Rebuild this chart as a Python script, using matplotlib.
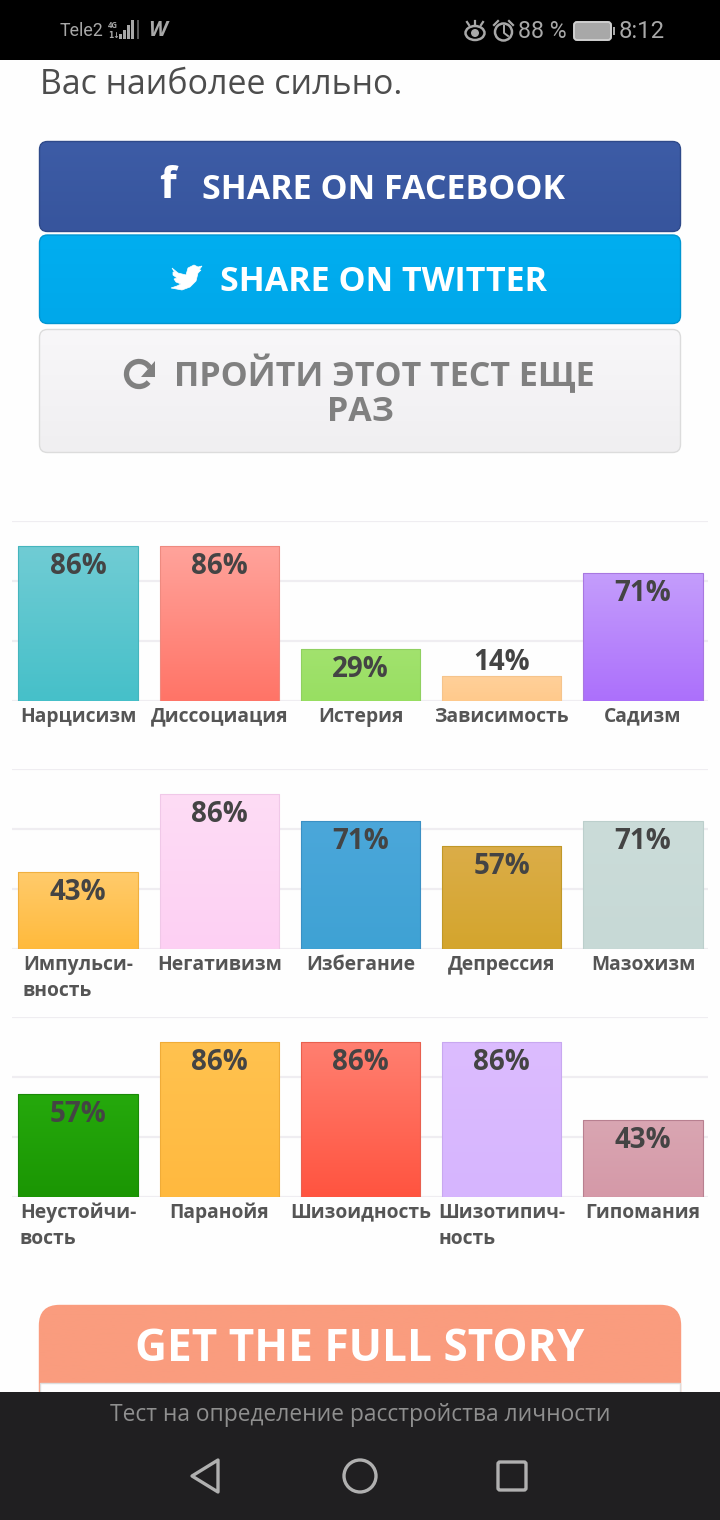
import numpy as np
import matplotlib
matplotlib.use("Agg")
import matplotlib.pyplot as plt
from matplotlib.colors import LinearSegmentedColormap
from matplotlib.patches import FancyBboxPatch, Rectangle, Circle, Polygon, Arc, Ellipse

plt.rcParams['font.family'] = ['Open Sans', 'DejaVu Sans']

# chart values
labels_1 = ["Нарцисизм", "Диссоциация", "Истерия", "Зависимость", "Садизм"]
values_1 = [86, 86, 29, 14, 71]
tops_1 = ["#70ccd4", "#ffa39b", "#a2e26e", "#ffd09a", "#c49dfc"]
bottoms_1 = ["#46c0c9", "#ff7467", "#98df62", "#ffca8c", "#ac70fb"]
edges_1 = ["#45b5bd", "#ee8a80", "#90d060", "#f5c48c", "#a878e0"]

labels_2 = ["Импульси-\nвность", "Негативизм", "Избегание", "Депрессия", "Мазохизм"]
values_2 = [43, 86, 71, 57, 71]
tops_2 = ["#ffcb6c", "#fedcf5", "#4ba7da", "#dbad48", "#cbdcd9"]
bottoms_2 = ["#ffba3c", "#fdd0f3", "#3fa2d4", "#d4a52d", "#c7d9d6"]
edges_2 = ["#f0b040", "#f0c8e8", "#3b90c4", "#c09828", "#bccfcc"]

labels_3 = ["Неустойчи-\nвость", "Паранойя", "Шизоидность", "Шизотипич-\nность", "Гипомания"]
values_3 = [57, 86, 86, 86, 43]
tops_3 = ["#25a90c", "#ffc24f", "#ff7f70", "#dcbcff", "#d9a6b2"]
bottoms_3 = ["#1b9603", "#ffb93f", "#ff5440", "#d6b5fe", "#d599a8"]
edges_3 = ["#1a8a08", "#f0ac38", "#e8604f", "#c8a8f0", "#b88090"]

chart_tops = [521, 769, 1017]

W, H = 720, 1520
fig = plt.figure(figsize=(7.2, 15.2), dpi=100, facecolor="#fefefe")

bg = fig.add_axes([0, 0, 1, 1])
bg.set_xlim(0, W)
bg.set_ylim(H, 0)
bg.axis("off")


def button(x0, y0, x1, y1, top, bottom, edge, r=8):
    box = FancyBboxPatch((x0 + r, y0 + r), x1 - x0 - 2 * r, y1 - y0 - 2 * r,
                         boxstyle="round,pad=%d,rounding_size=%d" % (r, r),
                         fc="none", ec=edge, lw=1.0, zorder=3)
    bg.add_patch(box)
    cm = LinearSegmentedColormap.from_list("b", [top, bottom])
    im = bg.imshow(np.linspace(0, 1, 64).reshape(-1, 1), cmap=cm, extent=(x0, x1, y1, y0),
                   aspect="auto", zorder=2)
    im.set_clip_path(box)


# status bar
bg.add_patch(Rectangle((0, 0), W, 60, fc="#000000", ec="none"))
bg.text(60, 31, "Tele2", color="#a8a8a8", fontsize=12.8, va="center", family="Roboto")
bg.text(108, 25, "4G", color="#a8a8a8", fontsize=5.5, va="center", weight="bold")
bg.text(108, 35, "1↓", color="#a8a8a8", fontsize=5.5, va="center", weight="bold", family="DejaVu Sans")
for sx, sh in zip([119, 123, 127, 131], [5, 9, 14, 19]):
    bg.add_patch(Rectangle((sx, 39 - sh), 2.6, sh, fc="#a8a8a8", ec="none"))
bg.add_patch(Rectangle((137, 20), 2, 19, fc="#555555", ec="none"))
bg.text(157, 30.5, "W", color="#a8a8a8", fontsize=15, ha="center", va="center", weight="bold", style="italic")
bg.add_patch(Ellipse((475, 33), 19, 14, fc="none", ec="#a8a8a8", lw=1.8))
bg.add_patch(Circle((475, 33), 4, fc="#a8a8a8", ec="none"))
bg.plot([467, 469], [22, 25], color="#a8a8a8", lw=1.6)
bg.plot([475, 475], [21, 25], color="#a8a8a8", lw=1.6)
bg.plot([483, 481], [22, 25], color="#a8a8a8", lw=1.6)
bg.add_patch(Circle((503.5, 32), 8.5, fc="none", ec="#a8a8a8", lw=1.8))
bg.plot([504, 504, 508], [26, 33, 36], color="#a8a8a8", lw=1.4)
bg.plot([494, 498], [25, 21], color="#a8a8a8", lw=1.6)
bg.plot([513, 509], [25, 21], color="#a8a8a8", lw=1.6)
bg.text(518, 32, "88 %", color="#a8a8a8", fontsize=16.7, va="center", family="Roboto")
bg.add_patch(FancyBboxPatch((575, 23), 35, 16, boxstyle="round,pad=1,rounding_size=3",
                            fc="#a8a8a8", ec="#d0d0d0", lw=1.4))
bg.add_patch(Rectangle((612.5, 27), 2, 8, fc="#a8a8a8", ec="none"))
bg.text(619, 32, "8:12", color="#a8a8a8", fontsize=17.2, va="center", family="Roboto")

bg.text(40, 85, "Вас наиболее сильно.", color="#4d4d4d", fontsize=24.4, va="center")

# share buttons
button(39.5, 141.5, 680.5, 231.5, "#3d5ca6", "#37559d", "#2f4a8a")
bg.text(168, 187, "f", color="white", fontsize=31, ha="center", va="center", weight="bold")
bg.text(384, 190, "SHARE ON FACEBOOK", color="white", fontsize=24.5, ha="center", va="center", weight="bold")

button(39.5, 235, 680.5, 323.5, "#01aef0", "#00a8ea", "#0096d2")
bird = [(172, 268), (178, 273), (186, 275), (188, 268), (194, 265), (198, 267), (202, 266), (199, 270),
        (201, 270), (198, 273), (196, 281), (190, 287), (182, 290), (171, 288), (177, 286), (181, 284),
        (176, 282), (174, 279), (177, 278), (173, 275), (173, 272), (175, 273)]
bg.add_patch(Polygon(bird, closed=True, fc="white", ec="white", lw=0.5, zorder=5))
bg.text(384, 282, "SHARE ON TWITTER", color="white", fontsize=24.5, ha="center", va="center", weight="bold")

button(39.5, 329.5, 680.5, 452.5, "#f8f7f9", "#f0eff1", "#dcdcdc")
bg.add_patch(Arc((139, 374), 25, 25, theta1=-320, theta2=-30, ec="#808080", lw=3.8, zorder=5))
bg.add_patch(Polygon([(155, 361), (155, 377), (141, 377)], closed=True, fc="#808080", ec="none", zorder=5))
bg.text(384, 374, "ПРОЙТИ ЭТОТ ТЕСТ ЕЩЕ", color="#808080", fontsize=24.5, ha="center", va="center", weight="bold")
bg.text(360, 412, "РАЗ", color="#808080", fontsize=24.5, ha="center", va="center", weight="bold")

# bottom panel and navigation bar
button(39.5, 1305.5, 680.5, 1440, "#fa9c7e", "#fa9c7e", "#fa9c7e", r=20)
bg.add_patch(Rectangle((40, 1383), 640, 30, fc="#fefefe", ec="#dddddd", lw=1, zorder=4))
bg.text(360, 1349.5, "GET THE FULL STORY", color="white", fontsize=31.8, ha="center", va="center", weight="bold", zorder=5)
bg.add_patch(Rectangle((0, 1392), W, 128, fc="#201f21", ec="none", zorder=6))
bg.text(360, 1415, "Тест на определение расстройства личности", color="#8f8f8f",
        fontsize=16.4, ha="center", va="center", zorder=7)
bg.add_patch(Polygon([(218, 1460), (192, 1476), (218, 1492)], closed=True, fc="none", ec="#b0b0b0",
                     lw=2.4, joinstyle="round", zorder=7))
bg.add_patch(Circle((360, 1476), 16, fc="none", ec="#b0b0b0", lw=2.4, zorder=7))
bg.add_patch(FancyBboxPatch((498, 1462), 28, 28, boxstyle="round,pad=0,rounding_size=2", fc="none",
                            ec="#b0b0b0", lw=2.4, zorder=7))
bg.set_xlim(0, W)
bg.set_ylim(H, 0)


def draw_chart(top_px, labels, values, tops, bottoms, edges):
    # chart area is 696 x 180 px, 100 % = 180 px
    ax = fig.add_axes([12 / W, 1 - (top_px + 180) / H, 696 / W, 180 / H])
    ax.patch.set_alpha(0)
    x = np.arange(len(values))
    bars = ax.bar(x, values, width=0.845, color="none", edgecolor="none", zorder=3)
    for b, v, t, bo, e in zip(bars, values, tops, bottoms, edges):
        cm = LinearSegmentedColormap.from_list("bar", [t, bo])
        x0 = b.get_x()
        x1 = x0 + b.get_width()
        im = ax.imshow(np.linspace(0, 1, 64).reshape(-1, 1), cmap=cm, extent=(x0, x1, 0, v),
                       aspect="auto", zorder=2)
        im.set_clip_path(b)
        b.set_edgecolor(e)
        b.set_linewidth(0.8)
        if v < 20:
            off = 13 * 0.72
        else:
            off = -20.5 * 0.72
        ax.annotate("%d%%" % v, (b.get_x() + b.get_width() / 2, v), xytext=(0, off),
                    textcoords="offset points", ha="center", va="center", fontsize=20,
                    weight="bold", color="#444444", zorder=4)
    ax.set_xlim((18 + 60 - 12) / -141.25, (708 - 78) / 141.25)
    ax.set_ylim(0, 100)
    ax.set_yticks([0, 100 / 3, 200 / 3, 100])
    ax.set_yticklabels([])
    ax.grid(axis="y", color="#efedf1", lw=1.6, zorder=0)
    ax.set_axisbelow(True)
    ax.set_xticks(x)
    ax.set_xticklabels(labels, fontsize=13.9, weight="bold", color="#555555", linespacing=1.42)
    for lab in ax.get_xticklabels():
        lab.set_multialignment("left")
    ax.tick_params(length=0, pad=4)
    for s in ax.spines.values():
        s.set_visible(False)
    return ax


draw_chart(chart_tops[0], labels_1, values_1, tops_1, bottoms_1, edges_1)
draw_chart(chart_tops[1], labels_2, values_2, tops_2, bottoms_2, edges_2)
draw_chart(chart_tops[2], labels_3, values_3, tops_3, bottoms_3, edges_3)

fig.savefig("out.png", dpi=100, facecolor=fig.get_facecolor())
